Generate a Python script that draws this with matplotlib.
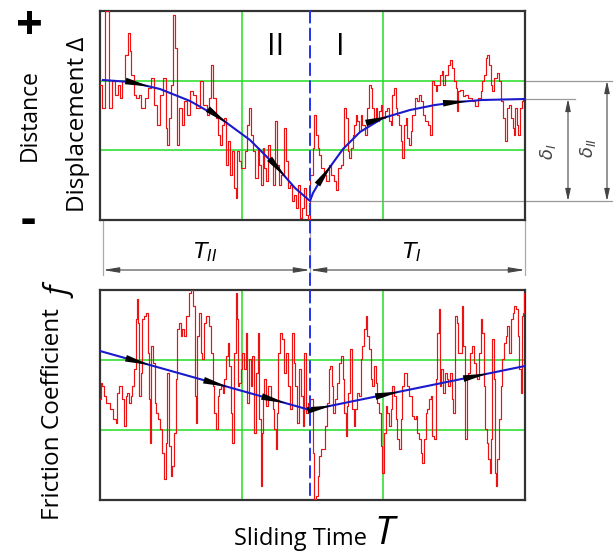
import numpy as np
import matplotlib.pyplot as plt
from matplotlib.patches import ConnectionPatch

plt.rcParams['font.family'] = ['Open Sans', 'DejaVu Sans']

# arbitrary units: time 0..425, displacement 0..209, friction 0..210
t_end = 425
t_split = 210
d_top, f_top = 209, 210

# measured displacement trace (red)
disp_t = [0, 3, 7, 10.7, 14, 16.3, 18.7, 20.7, 23, 26.3, 28.7, 30.3, 32.3, 34.7, 37.3, 39.7, 43, 46.3,
          48.7, 52.3, 55.3, 59, 61.3, 64.7, 66.3, 67.3, 69.7, 72, 74, 75.7, 77.3, 80.7, 83, 85.3, 88,
          91.3, 94.7, 98, 101.3, 104.7,
          108.3, 110, 112.3, 114.3, 116.7, 119, 121, 123.3, 125, 126.7, 129, 131, 133.3, 135, 136.7,
          138.3, 140, 141.7, 144.3, 146.7, 148.3, 150, 151.7, 154.3, 156.7, 158.3, 160, 161.7, 163.3,
          165, 166.7, 169, 171.7, 173.3, 175.7, 177.7, 180, 182.3, 185, 186.7, 189, 191, 193.3, 195,
          196.7, 199, 201, 203.3, 205, 206.7, 208.3,
          211.7, 213.3, 215, 216.7, 218.3, 220, 222.7, 225, 227.3, 230, 232.7, 235, 237.3, 239.3, 241.7,
          243.3, 245, 246.7, 248.3, 250, 251.7, 253.3, 255, 256.7, 258.3, 260, 261.7, 263.3, 266, 268.3,
          270, 271.7, 273.3, 275, 276.7, 278.3, 280, 281.7, 283.3, 286, 288.3, 290, 291.7, 293.3, 295,
          296.7, 298.3, 300, 301.7, 303.3, 305, 306.7, 308.3, 310, 311.7, 313.3, 316,
          318.3, 320, 321.7, 324.3, 326.7, 329, 331, 333.3, 335, 336.7, 338.3, 341, 342.3, 344.3, 346.7,
          349, 351, 353.3, 355, 356.7, 357.7, 359.3, 361.7, 364.3, 366.7, 370, 373.3, 376.7, 380, 381.7,
          383.3, 385, 386.7, 388.3, 390, 391.7, 393.3, 395.7, 398.3, 400, 402.3, 404.3, 406, 407.7, 410,
          411.7, 413.3, 414.3, 415.7, 417.3, 419, 421, 422.3, 424.3]
disp_v = [135, 112, 209, 112, 139, 125, 135, 122, 139, 165, 187, 169, 145, 125, 122, 125, 112, 122,
          132, 142, 115, 95, 125, 142, 92, 75, 102, 135, 205, 172, 75, 112, 95, 119, 105,
          129, 125, 112, 139, 115,
          105, 122, 155, 122, 102, 85, 75, 95, 102, 55, 79, 45, 69, 32, 22,
          69, 59, 52, 52, 69, 95, 112, 85, 69, 42, 72, 55, 35, 72,
          52, 39, 75, 59, 35, 99, 55, 35, 45, 92, 59, 32, 35, 19, 25,
          12, 35, 2, 12, 32, 5, 0,
          45, 72, 105, 85, 72, 65, 52, 45, 39, 55, 45, 39, 30, 52, 55,
          72, 112, 102, 69, 62, 72, 85, 95, 105, 99, 89, 105, 95, 85, 112,
          135, 132, 112, 99, 112, 99, 109, 115, 102, 109, 112, 99, 95, 125, 132,
          112, 105, 95, 79, 62, 95, 102, 82, 75, 89, 105, 122,
          119, 125, 119, 105, 99, 95, 85, 139, 135, 129, 135, 145, 149, 135, 145,
          155, 160, 152, 139, 132, 109, 129, 130, 124, 125, 122, 119, 114, 122, 129,
          139, 145, 162, 165, 155, 135, 129, 142, 147, 139, 119, 102, 79, 112, 115,
          102, 92, 85, 112, 95, 85, 112, 119, 122]

# trend of displacement (blue)
trend_d_t = [3, 30, 60, 90, 120, 150, 175, 195, 210, 213, 220, 230, 243, 260, 283, 310, 335, 358, 382, 425]
trend_d_v = [140, 138, 131, 119, 102, 80, 55, 32, 19, 27, 39, 53, 71, 88, 102, 110, 115, 118, 120, 121]
delta_I, delta_II, delta_min = 121, 139, 19

# measured friction coefficient trace (red)
fric_t = [0, 1.3, 3, 4.7, 8, 11.3, 14.7, 16.3, 18, 20.7, 23, 24.7, 26.3, 28, 29.7, 31.3, 33, 34.7,
          36.3, 37.3, 38.7, 39.7, 41.3, 43, 44.7, 47.3, 48.7, 49.7, 50.7, 52, 53.7, 55.3, 57.3, 59, 61.3,
          63, 64.7, 66.3, 68, 69.7, 71.3, 73, 74.7, 76.3, 78, 79.7, 81.3, 83, 85.3, 87.3, 89.7, 92, 94,
          95.3, 96.7, 98, 99.7, 101.3, 103, 104.7, 106.3,
          107.7, 110, 111.7, 113.3, 115, 116.7, 118.3, 120, 121.7, 123.3, 125, 126.7, 128.3, 130, 131.7,
          133.3, 135, 136.7, 137.7, 138.3, 140, 141.7, 143.3, 145, 146.7, 148.3, 150, 151.7, 153.3, 155,
          156.7, 158.3, 160, 161, 162.3, 163.3, 165, 166.7, 168.3, 170, 171.7, 173.3, 175, 176, 177.3,
          179, 181, 182.7, 185, 186.7, 189, 191, 192.7, 194.3, 196, 197.7, 199.3, 201.7, 203.3, 205,
          206.7, 208.3,
          211.7, 213.3, 215, 216.7, 218.3, 220, 221.7, 224, 226, 227.7, 229.3, 230.7, 232.3, 234, 236,
          238.3, 240, 241.7, 243.3, 245, 246, 247.3, 249.3, 251, 252.7, 254.3, 256, 257.7, 260, 261.7,
          263.3, 265, 266.7, 268.3, 270, 271.7, 273.3, 275, 276.7, 278.3, 280, 281.7, 283.3, 285, 286.7,
          288.3, 290, 291.7, 293.3, 295, 296.7, 298.3, 300, 301.7, 303.3, 305, 306.7, 308.3, 310, 311.7,
          313.3,
          315, 316.7, 318.3, 320, 321.7, 323.3, 325, 326.7, 328.3, 330, 331.7, 333.3, 335, 336.7, 338.3,
          339.3, 340.7, 342.3, 344.3, 345.7, 347.7, 349, 351, 352.3, 354.3, 356, 357.7, 359.3, 361, 362.7,
          364.3, 366, 367.7, 369.3, 371, 373.3, 375, 376.7, 378.3, 380, 381.7, 383.3, 385, 386, 387.7,
          389, 390.3, 391.7, 393, 394.3, 395.7, 396.7, 398.3, 400, 401.7, 403.3, 405, 406.7, 408.3, 410,
          411.7, 413.3, 415, 416.7, 418.3, 420, 421, 422.3, 423.7, 424.3]
fric_v = [101, 117, 114, 104, 97, 91, 81, 77, 107, 114, 101, 74, 104, 107, 97, 104, 114, 131,
          181, 201, 177, 104, 127, 181, 184, 187, 147, 101, 57, 154, 137, 97, 87, 81, 71,
          47, 21, 57, 127, 54, 24, 34, 67, 121, 171, 177, 164, 171, 164, 184, 207, 211, 194,
          104, 77, 164, 187, 147, 141, 177, 184,
          184, 174, 147, 114, 87, 71, 104, 111, 114, 107, 121, 144, 157, 134, 87,
          57, 147, 207, 181, 114, 117, 131, 147, 131, 167, 97, 141, 114, 144, 67,
          127, 167, 81, 14, 67, 104, 121, 94, 114, 114, 101, 91, 71, 51, 87,
          147, 167, 161, 127, 147, 114, 91, 167, 137, 114, 77, 131, 104, 74, 147,
          87, 97,
          101, 47, 1, 4, 24, 44, 51, 51, 74, 97, 131, 134, 114, 87, 101,
          117, 137, 144, 121, 87, 64, 94, 107, 151, 91, 74, 91, 107, 104, 141,
          154, 171, 184, 164, 151, 121, 114, 134, 117, 97, 87, 54, 27, 67, 94,
          87, 74, 91, 114, 104, 81, 61, 51, 81, 114, 127, 127, 114, 104, 104,
          84,
          81, 84, 67, 61, 47, 37, 61, 87, 91, 101, 104, 64, 61, 121, 167,
          191, 114, 131, 107, 127, 121, 114, 127, 101, 87, 184, 177, 147, 147, 194,
          154, 61, 121, 127, 147, 154, 137, 124, 121, 147, 181, 167, 114, 71, 57,
          41, 27, 61, 161, 121, 27, 14, 41, 81, 114, 141, 157, 164, 174, 147,
          181, 187, 194, 191, 164, 131, 107, 184, 187, 207]

# trend of friction coefficient (blue)
trend_f_t = [0, 210, 425]
trend_f_v = [149, 90, 134]

arrows_d = [50, 128, 186, 232, 290, 368]
arrows_f = [50, 128, 186, 232, 300, 388]

fig = plt.figure(figsize=(6.14, 5.52), dpi=100)
W, H = 614, 552
ax1 = fig.add_axes([100 / W, 1 - 220 / H, 425 / W, 209 / H])
ax2 = fig.add_axes([100 / W, 1 - 500 / H, 425 / W, 210 / H])

green = '#22dd22'
for ax, top in ((ax1, d_top), (ax2, f_top)):
    ax.set_xlim(0, t_end)
    ax.set_ylim(0, top)
    ax.set_xticks([])
    ax.set_yticks([])
    for s in ax.spines.values():
        s.set_color('#333333')
        s.set_linewidth(1.6)
    for gx in (t_end / 3, 2 * t_end / 3):
        ax.axvline(gx, color=green, lw=1.1, zorder=1)
    for gy in (top / 3, 2 * top / 3):
        ax.axhline(gy, color=green, lw=1.1, zorder=1)


def add_arrows(ax, xs, ys, where):
    for ta in where:
        y1 = np.interp(ta, xs, ys)
        y0 = np.interp(ta - 4, xs, ys)
        ax.annotate('', xy=(ta, y1), xytext=(ta - 4, y0),
                    arrowprops=dict(arrowstyle='-|>,head_length=1.8,head_width=0.24',
                                    color='black', lw=0, shrinkA=0, shrinkB=0,
                                    mutation_scale=10), zorder=6)


# top panel
ax1.plot(disp_t, disp_v, color='#ee1111', lw=0.85, drawstyle='steps-mid', zorder=3)
ax1.plot(trend_d_t, trend_d_v, color='#1a1acc', lw=1.5, zorder=4)
add_arrows(ax1, trend_d_t, trend_d_v, arrows_d)
ax1.text(176, 173, 'II', fontsize=22, ha='center', va='center')
ax1.text(240, 173, 'I', fontsize=22, ha='center', va='center')

gray = '#999999'
ax1.plot([t_split, 512], [delta_min, delta_min], color=gray, lw=0.9, clip_on=False, zorder=2)
ax1.plot([t_end, 512], [delta_II, delta_II], color=gray, lw=0.9, clip_on=False, zorder=2)
ax1.plot([t_end, 475], [delta_I, delta_I], color=gray, lw=0.9, clip_on=False, zorder=2)
for xa, ytop in ((468, delta_I), (507, delta_II)):
    ax1.annotate('', xy=(xa, delta_min), xytext=(xa, ytop), annotation_clip=False,
                 arrowprops=dict(arrowstyle='<|-|>,head_length=0.9,head_width=0.2',
                                 color='#444444', lw=0.8, shrinkA=0, shrinkB=0, mutation_scale=8))
ax1.text(448, 68, r'$\delta_I$', rotation=90, fontsize=13, ha='center', va='center', color='#444444')
ax1.text(488, 72, r'$\delta_{II}$', rotation=90, fontsize=13, ha='center', va='center', color='#444444')

# time dimension lines
for xv in (3, t_split, t_end):
    ax1.plot([xv, xv], [0, -55], color='#aaaaaa', lw=0.9, clip_on=False)
for xa, xb in ((3, t_split), (t_split, t_end)):
    ax1.annotate('', xy=(xa, -50), xytext=(xb, -50), annotation_clip=False,
                 arrowprops=dict(arrowstyle='<|-|>,head_length=1.2,head_width=0.2',
                                 color='#444444', lw=0.8, shrinkA=0, shrinkB=0, mutation_scale=8))
ax1.text(105, -32, r'$T_{II}$', fontsize=16, ha='center', va='center')
ax1.text(312, -32, r'$T_I$', fontsize=16, ha='center', va='center')

# bottom panel
ax2.plot(fric_t, fric_v, color='#ee1111', lw=0.85, drawstyle='steps-mid', zorder=3)
ax2.plot(trend_f_t, trend_f_v, color='#1a1acc', lw=1.5, zorder=4)
add_arrows(ax2, trend_f_t, trend_f_v, arrows_f)

# dashed divider through both panels
con = ConnectionPatch(xyA=(t_split, d_top), coordsA=ax1.transData,
                      xyB=(t_split, 0), coordsB=ax2.transData,
                      color='#2233ee', lw=1.4, linestyle=(0, (6, 3)), zorder=7)
fig.add_artist(con)

# labels
fig.text(29 / W, 1 - 27 / H, '+', fontsize=34, fontweight='bold', ha='center', va='center')
fig.text(28 / W, 1 - 221 / H, '-', fontsize=34, fontweight='bold', ha='center', va='center')
fig.text(30 / W, 1 - 115 / H, 'Distance', rotation=90, fontsize=16.5, ha='center', va='center')
fig.text(78 / W, 1 - 124 / H, 'Displacement Δ', rotation=90, fontsize=17.5, ha='center', va='center')
fig.text(53 / W, 1 - 414 / H, 'Friction Coefficient', rotation=90, fontsize=17.5,
         ha='center', va='center')
fig.text(62 / W, 1 - 293 / H, 'f', rotation=90, fontsize=22, style='italic',
         ha='center', va='center')
fig.text(367 / W, 1 - 539 / H, 'Sliding Time', fontsize=17, ha='right', va='center')
fig.text(374 / W, 1 - 534 / H, 'T', fontsize=28, style='italic', ha='left', va='center')

fig.savefig('out.png', dpi=100)
